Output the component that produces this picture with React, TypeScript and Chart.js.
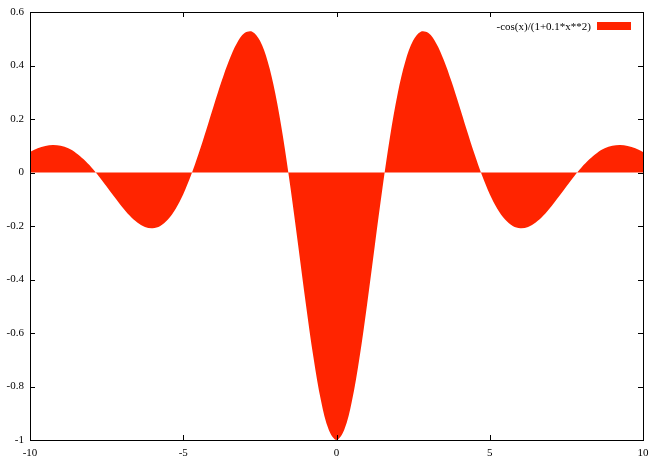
import React, { useEffect, useRef } from "react";
import { Chart, registerables } from "chart.js";

Chart.register(...registerables);

const seriesLabel = "-cos(x)/(1+0.1*x**2)";

const xValues = [
  -10, -9.75, -9.5, -9.25, -9, -8.75, -8.5, -8.25, -8, -7.75, -7.5, -7.25, -7, -6.75, -6.5, -6.25,
  -6, -5.75, -5.5, -5.25, -5, -4.75, -4.5, -4.25, -4, -3.75, -3.5, -3.25, -3, -2.75, -2.5, -2.25,
  -2, -1.75, -1.5, -1.25, -1, -0.75, -0.5, -0.25, 0, 0.25, 0.5, 0.75, 1, 1.25, 1.5, 1.75, 2, 2.25,
  2.5, 2.75, 3, 3.25, 3.5, 3.75, 4, 4.25, 4.5, 4.75, 5, 5.25, 5.5, 5.75, 6, 6.25, 6.5, 6.75, 7,
  7.25, 7.5, 7.75, 8, 8.25, 8.5, 8.75, 9, 9.25, 9.5, 9.75, 10,
];

const yValues = [
  0.07628, 0.09019, 0.09947, 0.10305, 0.10012, 0.09021, 0.07319, 0.04942, 0.01966, -0.01481,
  -0.05232, -0.09078, -0.12778, -0.16072, -0.18691, -0.20371, -0.20873, -0.19998, -0.17607,
  -0.13633, -0.08105, -0.01155, 0.06968, 0.15901, 0.2514, 0.34101, 0.42088, 0.48347, 0.52105,
  0.52629, 0.49301, 0.41705, 0.29725, 0.13646, -0.05774, -0.27271, -0.49118, -0.69272, -0.85618,
  -0.9629, -1, -0.9629, -0.85618, -0.69272, -0.49118, -0.27271, -0.05774, 0.13646, 0.29725,
  0.41705, 0.49301, 0.52629, 0.52105, 0.48347, 0.42088, 0.34101, 0.2514, 0.15901, 0.06968,
  -0.01155, -0.08105, -0.13633, -0.17607, -0.19998, -0.20873, -0.20371, -0.18691, -0.16072,
  -0.12778, -0.09078, -0.05232, -0.01481, 0.01966, 0.04942, 0.07319, 0.09021, 0.10012, 0.10305,
  0.09947, 0.09019, 0.07628,
];

const xTicks = [-10, -5, 0, 5, 10];
const yTicks = [-1, -0.8, -0.6, -0.4, -0.2, 0, 0.2, 0.4, 0.6];

const FILL = "#ff2400";
const FONT = "'Liberation Serif', 'Times New Roman', serif";

const framePlugin = {
  id: "gnuframe",
  afterDatasetsDraw(chart: any) {
    const { ctx, chartArea, scales } = chart;
    const { left, right, top, bottom } = chartArea;
    const tl = 5;
    ctx.save();
    ctx.strokeStyle = "#000";
    ctx.lineWidth = 1;
    ctx.beginPath();
    for (const v of xTicks) {
      const px = Math.round(scales.x.getPixelForValue(v)) + 0.5;
      ctx.moveTo(px, bottom);
      ctx.lineTo(px, bottom - tl);
      ctx.moveTo(px, top);
      ctx.lineTo(px, top + tl);
    }
    for (const v of yTicks) {
      const py = Math.round(scales.y.getPixelForValue(v)) + 0.5;
      ctx.moveTo(left, py);
      ctx.lineTo(left + tl, py);
      ctx.moveTo(right, py);
      ctx.lineTo(right - tl, py);
    }
    ctx.stroke();
    ctx.strokeRect(Math.round(left) + 0.5, Math.round(top) + 0.5, Math.round(right - left), Math.round(bottom - top));
    // legend (gnuplot style: text, then sample box)
    const label = chart.data.datasets[0].label;
    ctx.font = "11px " + FONT;
    ctx.fillStyle = "#000";
    ctx.textAlign = "right";
    ctx.textBaseline = "middle";
    ctx.fillText(label, right - 52, top + 15);
    ctx.fillStyle = FILL;
    ctx.fillRect(right - 46, top + 10, 34, 8);
    ctx.restore();
  },
};

export default function App() {
  const ref = useRef<HTMLCanvasElement>(null);
  useEffect(() => {
    document.body.style.margin = "0";
    const canvas = ref.current!;
    const chart = new Chart(canvas, {
      type: "line",
      data: {
        datasets: [
          {
            label: seriesLabel,
            data: xValues.map((x, i) => ({ x, y: yValues[i] })),
            fill: "origin",
            backgroundColor: FILL,
            borderColor: FILL,
            borderWidth: 0,
            pointRadius: 0,
            tension: 0.35,
          },
        ],
      },
      options: {
        animation: false,
        responsive: false,
        maintainAspectRatio: false,
        events: [],
        layout: { padding: { left: 0, top: 12, right: 8, bottom: 0 } },
        plugins: { legend: { display: false }, tooltip: { enabled: false } },
        scales: {
          x: {
            type: "linear",
            min: -10,
            max: 10,
            afterBuildTicks: (s: any) => {
              s.ticks = xTicks.map((v) => ({ value: v }));
            },
            afterFit: (s: any) => {
              s.height = 21;
              s.paddingLeft = 0;
              s.paddingRight = 0;
            },
            grid: { display: false, drawTicks: false },
            border: { display: false },
            ticks: { padding: 7, color: "#000", font: { family: FONT, size: 11 }, maxRotation: 0 },
          },
          y: {
            type: "linear",
            min: -1,
            max: 0.6,
            afterBuildTicks: (s: any) => {
              s.ticks = yTicks.map((v) => ({ value: v }));
            },
            afterFit: (s: any) => {
              s.width = 30;
              s.paddingTop = 0;
              s.paddingBottom = 0;
            },
            grid: { display: false, drawTicks: false },
            border: { display: false },
            ticks: {
              padding: 6,
              color: "#000",
              font: { family: FONT, size: 11 },
              callback: (v: any) => String(Math.round(Number(v) * 10) / 10),
            },
          },
        },
      },
      plugins: [framePlugin],
    });
    return () => chart.destroy();
  }, []);
  return <canvas ref={ref} width={651} height={461} style={{ display: "block" }} />;
}
